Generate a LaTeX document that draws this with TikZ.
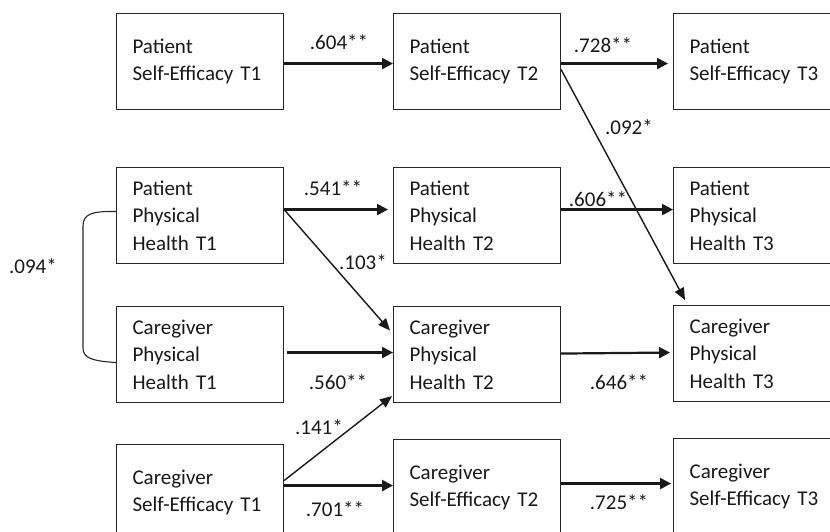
\documentclass[tikz,border=0pt]{standalone}
\usepackage{fontspec}
\setmainfont{Carlito}
\usetikzlibrary{arrows.meta}
\begin{document}
\begin{tikzpicture}[x=1pt,y=-1pt,
  box/.style={draw=black!85,line width=1.1pt,rectangle,anchor=north west,
    text width=135pt,inner xsep=16pt,inner ysep=0pt,minimum height=96pt,
    align=left,font=\fontsize{21}{27.5}\selectfont,text=black!90},
  lab/.style={font=\fontsize{21}{25}\selectfont,text=black!90,inner sep=0pt},
  harr/.style={line width=2.2pt,-{Triangle[length=11pt,width=11pt]},black!90},
  darr/.style={line width=1.4pt,-{Triangle[length=12pt,width=10pt]},black!90}]
\useasboundingbox (0,0) rectangle (830,532);
\clip (0,0) rectangle (830,532);
% boxes
\node[box] (pse1) at (116,13) {Patient\\Self-Efficacy T1};
\node[box] (pse2) at (393,13) {Patient\\Self-Efficacy T2};
\node[box] (pse3) at (673,13) {Patient\\Self-Efficacy T3};
\node[box] (pph1) at (116,167) {Patient\\Physical\\Health T1};
\node[box] (pph2) at (393,167) {Patient\\Physical\\Health T2};
\node[box] (pph3) at (673,167) {Patient\\Physical\\Health T3};
\node[box] (cph1) at (116,306) {Caregiver\\Physical\\Health T1};
\node[box] (cph2) at (393,306) {Caregiver\\Physical\\Health T2};
\node[box] (cph3) at (673,305) {Caregiver\\Physical\\Health T3};
\node[box] (cse1) at (116,444) {Caregiver\\Self-Efficacy T1};
\node[box] (cse2) at (393,439) {Caregiver\\Self-Efficacy T2};
\node[box] (cse3) at (673,438) {Caregiver\\Self-Efficacy T3};
% arrows
\draw[harr] ([yshift=-2pt]pse1.east) -- ([yshift=-2pt]pse2.west);
\draw[harr] ([yshift=-2pt]pse2.east) -- ([xshift=-5pt,yshift=-2pt]pse3.west);
\draw[darr] ([yshift=-8pt]pse2.east) -- ([xshift=12pt,yshift=5pt]cph3.north west);
\draw[harr] ([yshift=6pt]pph1.east) -- ([xshift=-5pt,yshift=6pt]pph2.west);
\draw[harr] ([yshift=6pt]pph2.east) -- ([yshift=6pt]pph3.west);
\draw[darr] ([yshift=6pt]pph1.east) -- ([xshift=-3pt,yshift=24pt]cph2.west);
\draw[harr] ([xshift=3pt,yshift=2pt]cph1.east) -- ([yshift=2pt]cph2.west);
\draw[harr] ([yshift=1pt]cph2.east) -- ([xshift=-3pt,yshift=1pt]cph3.west);
\draw[darr] ([yshift=12pt]cse1.east) -- ([xshift=-1pt,yshift=7pt]cph2.south west);
\draw[harr] ([yshift=7pt]cse1.east) -- ([yshift=2pt]cse2.west);
\draw[harr] ([yshift=4pt]cse2.east) -- ([xshift=-2pt,yshift=3pt]cse3.west);
% correlation curve
\draw[line width=1.1pt,black!85] ([yshift=4pt]pph1.west) .. controls (92,211) and (83,214) .. (83,226)
  -- (83,348) .. controls (83,358) and (92,361) .. ([yshift=-8pt]cph1.west);
% labels
\node[lab] (l604) at (339,42) {.604**};
\node[lab] (l728) at (603,45) {.728**};
\node[lab] (l092) at (629,127) {.092*};
\node[lab] (l541) at (333,188) {.541**};
\node[lab] (l606) at (598,199) {.606**};
\node[lab] (l103) at (363,262) {.103*};
\node[lab] (l094) at (33,266) {.094*};
\node[lab] (l560) at (338,382) {.560**};
\node[lab] (l646) at (619,382) {.646**};
\node[lab] (l141) at (319,427) {.141*};
\node[lab] (l701) at (335,509) {.701**};
\node[lab] (l725) at (619,502) {.725**};
\end{tikzpicture}
\end{document}
